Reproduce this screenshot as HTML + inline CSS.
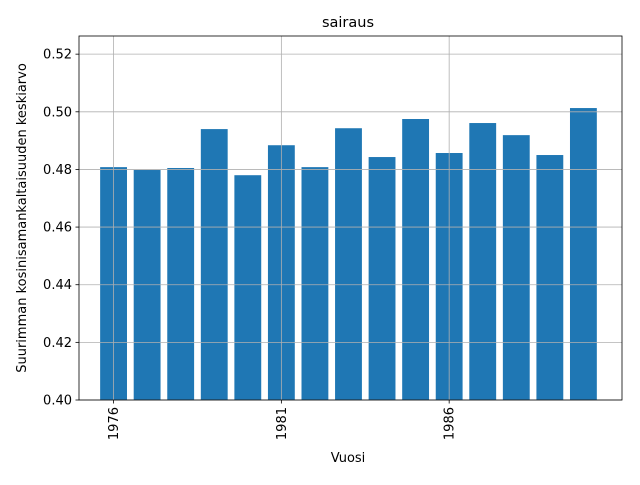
<!DOCTYPE html>
<html><head><meta charset="utf-8"><style>
body{margin:0;background:#fff;}
svg text{font-family:"DejaVu Sans","Liberation Sans",sans-serif;fill:#000;}
</style></head><body>
<svg id="chart" width="640" height="480" viewBox="0 0 640 480">
<rect width="640" height="480" fill="#fff"/>
<text x="348" y="27" font-size="14.5" text-anchor="middle">sairaus</text>
<g id="bars"></g>
<g id="grid"></g>
<g id="axes"></g>
<text x="348" y="462" font-size="13" text-anchor="middle">Vuosi</text>
<text transform="translate(26,218) rotate(-90)" font-size="13" text-anchor="middle">Suurimman kosinisamankaltaisuuden keskiarvo</text>
</svg>
<script>
const years=[1976,1977,1978,1979,1980,1981,1982,1983,1984,1985,1986,1987,1988,1989,1990];
const values=[0.4808,0.4798,0.4805,0.4940,0.4780,0.4884,0.4808,0.4943,0.4843,0.4975,0.4857,0.4961,0.4919,0.4850,0.5013];
const yTicks=[0.40,0.42,0.44,0.46,0.48,0.50,0.52];
const yTickLabels=["0.40","0.42","0.44","0.46","0.48","0.50","0.52"];
const xTicks=[1976,1981,1986];
const xTickLabels=["1976","1981","1986"];

const L=79,R=622,T=36,B=400;
const xMin=1974.97,xMax=1991.15,yMin=0.40,yMax=0.5263;
const sx=v=>L+(v-xMin)/(xMax-xMin)*(R-L);
const sy=v=>B-(v-yMin)/(yMax-yMin)*(B-T);
const NS="http://www.w3.org/2000/svg";
function mk(tag,attrs,parent){const e=document.createElementNS(NS,tag);for(const k in attrs)e.setAttribute(k,attrs[k]);parent.appendChild(e);return e;}
const grid=document.getElementById('grid'),bars=document.getElementById('bars'),axes=document.getElementById('axes');
const bw=0.8*(sx(1)-sx(0));

yTicks.forEach((t,i)=>{
  const y=sy(t);
  const g=mk('line',{x1:L,x2:R,y1:y,y2:y,stroke:'#b0b0b0','stroke-width':0.8},grid);
  
  
  const tk=mk('line',{x1:L-3.5,x2:L,y1:y,y2:y,stroke:'#000','stroke-width':0.8},axes);
  
  
  const tx=mk('text',{x:L-7,y:y+4.5,'font-size':13,'text-anchor':'end'},axes);
  tx.textContent=yTickLabels[i];
  
  
});
xTicks.forEach((t,i)=>{
  const x=sx(t);
  const g=mk('line',{x1:x,x2:x,y1:T,y2:B,stroke:'#b0b0b0','stroke-width':0.8},grid);
  
  
  const tk=mk('line',{x1:x,x2:x,y1:B,y2:B+3.5,stroke:'#000','stroke-width':0.8},axes);
  
  
  const tx=mk('text',{transform:`translate(${x+4.5},${B+7}) rotate(-90)`,'font-size':13,'text-anchor':'end'},axes);
  tx.textContent=xTickLabels[i];
  
  
});
years.forEach((yr,i)=>{
  const x=sx(yr)-bw/2,y=sy(values[i]);
  const r=mk('rect',{x:x,y:y,width:bw,height:B-y,fill:'#1f77b4'},bars);
  
  
});
const frame=mk('rect',{x:L,y:T,width:R-L,height:B-T,fill:'none',stroke:'#000','stroke-width':0.8},axes);


</script>
</body></html>
